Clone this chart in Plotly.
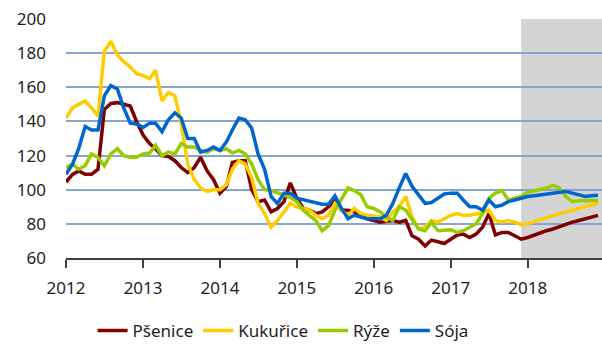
import pandas as pd
import plotly.graph_objects as go

# Monthly price indices, Jan 2012 – Dec 2018
months = pd.date_range("2012-01-01", "2018-12-01", freq="MS")

psenice = [
    104.5, 109, 111, 109, 109, 112, 147, 150.5, 151, 150, 149, 140,
    132, 127, 124, 120, 119.5, 117, 113, 110, 113, 119, 111, 106,
    98, 102, 116, 117, 117, 100, 93, 94, 87, 89, 93, 104,
    95, 89, 88, 86, 87, 90, 94, 88, 88, 87, 85, 83,
    82, 81, 81.5, 82, 81, 82, 73, 71, 67, 70.5, 69.5, 68.5,
    71, 73.5, 74, 72, 74, 78, 86, 73.5, 75, 75, 73, 71,
    72, 73.5, 75, 76, 77, 78.5, 79.5, 81, 82, 83, 84.5, 85,
]
kukurice = [
    142, 148, 150, 152, 148, 143, 181, 187, 179, 175, 172, 168,
    167, 165, 170, 152, 157, 155, 139, 115, 106, 101, 99, 100,
    100, 103, 112, 117, 115, 107, 92, 86, 78, 82, 87, 92,
    90, 89, 88, 85, 83, 85, 92, 88, 85, 89, 86, 85,
    84.5, 84, 82, 87, 90, 96, 84, 77, 78, 82, 81, 83,
    85, 86, 85, 85, 85.5, 86.5, 88, 82, 81, 82, 81, 79.5,
    80, 81.5, 82.5, 83.5, 85, 86, 87, 88, 89, 90, 91, 92,
]
ryze = [
    113, 115, 112, 114, 121, 119, 114, 121, 124, 120, 119, 119,
    121, 121.5, 126, 120, 122, 121, 127, 125, 125, 123, 122, 124,
    123, 124, 121.5, 123, 121, 115, 106, 100, 99.5, 98, 97, 95.5,
    93, 88, 85, 82, 76, 79, 88, 95, 101, 99.5, 97, 90,
    89, 87, 84, 82, 90, 88, 83, 77, 76, 81, 76, 76,
    76.5, 75, 76, 78, 80, 86, 95, 98, 99.5, 94, 95, 96,
    98.5, 99.5, 100, 101, 102.5, 101, 96, 93, 93.5, 93.7, 93.7, 93.7,
]
soja = [
    109, 115, 124, 137, 135, 135, 155, 161, 159, 148, 139, 138.5,
    136.5, 139, 139, 134, 141, 145, 142, 130, 130, 122, 123, 125,
    123, 128, 135, 142, 141, 136, 121, 112, 96, 92, 98, 98,
    95, 94, 93, 92.5, 91.5, 91.5, 96.5, 89, 83, 85, 84, 83,
    83, 83, 85, 92, 101, 109.5, 102, 97, 92, 92.5, 95, 97.5,
    98, 98, 94, 90, 90, 88, 94, 90, 91, 93, 94, 95,
    96, 96.5, 97, 97.5, 98, 98.5, 99, 98, 97, 96, 96.5, 96.7,
]

series = [
    ("Pšenice", psenice, "#800000"),
    ("Kukuřice", kukurice, "#ffcc00"),
    ("Rýže", ryze, "#99cc00"),
    ("Sója", soja, "#0066cc"),
]

forecast_start = "2017-12-01"
x_end = "2018-12-20"

fig = go.Figure()
for name, values, color in series:
    fig.add_trace(go.Scatter(
        x=months, y=values, name=name, mode="lines",
        line=dict(color=color, width=3.5),
    ))

# shaded forecast period
fig.add_shape(
    type="rect", xref="x", yref="y",
    x0=forecast_start, x1=x_end, y0=60, y1=200,
    fillcolor="#d4d4d4", line_width=0, layer="below",
)

font = dict(family="Noto Sans", size=17, color="#1e1e1e")

fig.update_layout(
    width=602, height=344,
    margin=dict(l=66, r=0, t=19, b=86),
    paper_bgcolor="white", plot_bgcolor="white",
    font=font,
    showlegend=True,
    legend=dict(
        orientation="h", x=0.405, xanchor="center",
        yref="container", y=0.038, yanchor="middle",
        font=font, itemwidth=30,
    ),
    xaxis=dict(
        type="date", range=["2012-01-01", x_end], automargin=False,
        tick0="2012-01-01", dtick="M12", tickformat="%Y",
        showgrid=False, showline=True, linecolor="#3c4048", linewidth=2,
        ticks="outside", ticklen=8, tickcolor="#3c4048", tickwidth=2,
        ticklabelstandoff=6, tickfont=font,
    ),
    yaxis=dict(
        range=[60, 200], dtick=20, showgrid=True, automargin=False,
        gridcolor="#86a5d2", gridwidth=1.5, zeroline=False,
        showline=False, ticks="", ticklabelstandoff=19, tickfont=font,
    ),
)

fig.write_html("out.html")
